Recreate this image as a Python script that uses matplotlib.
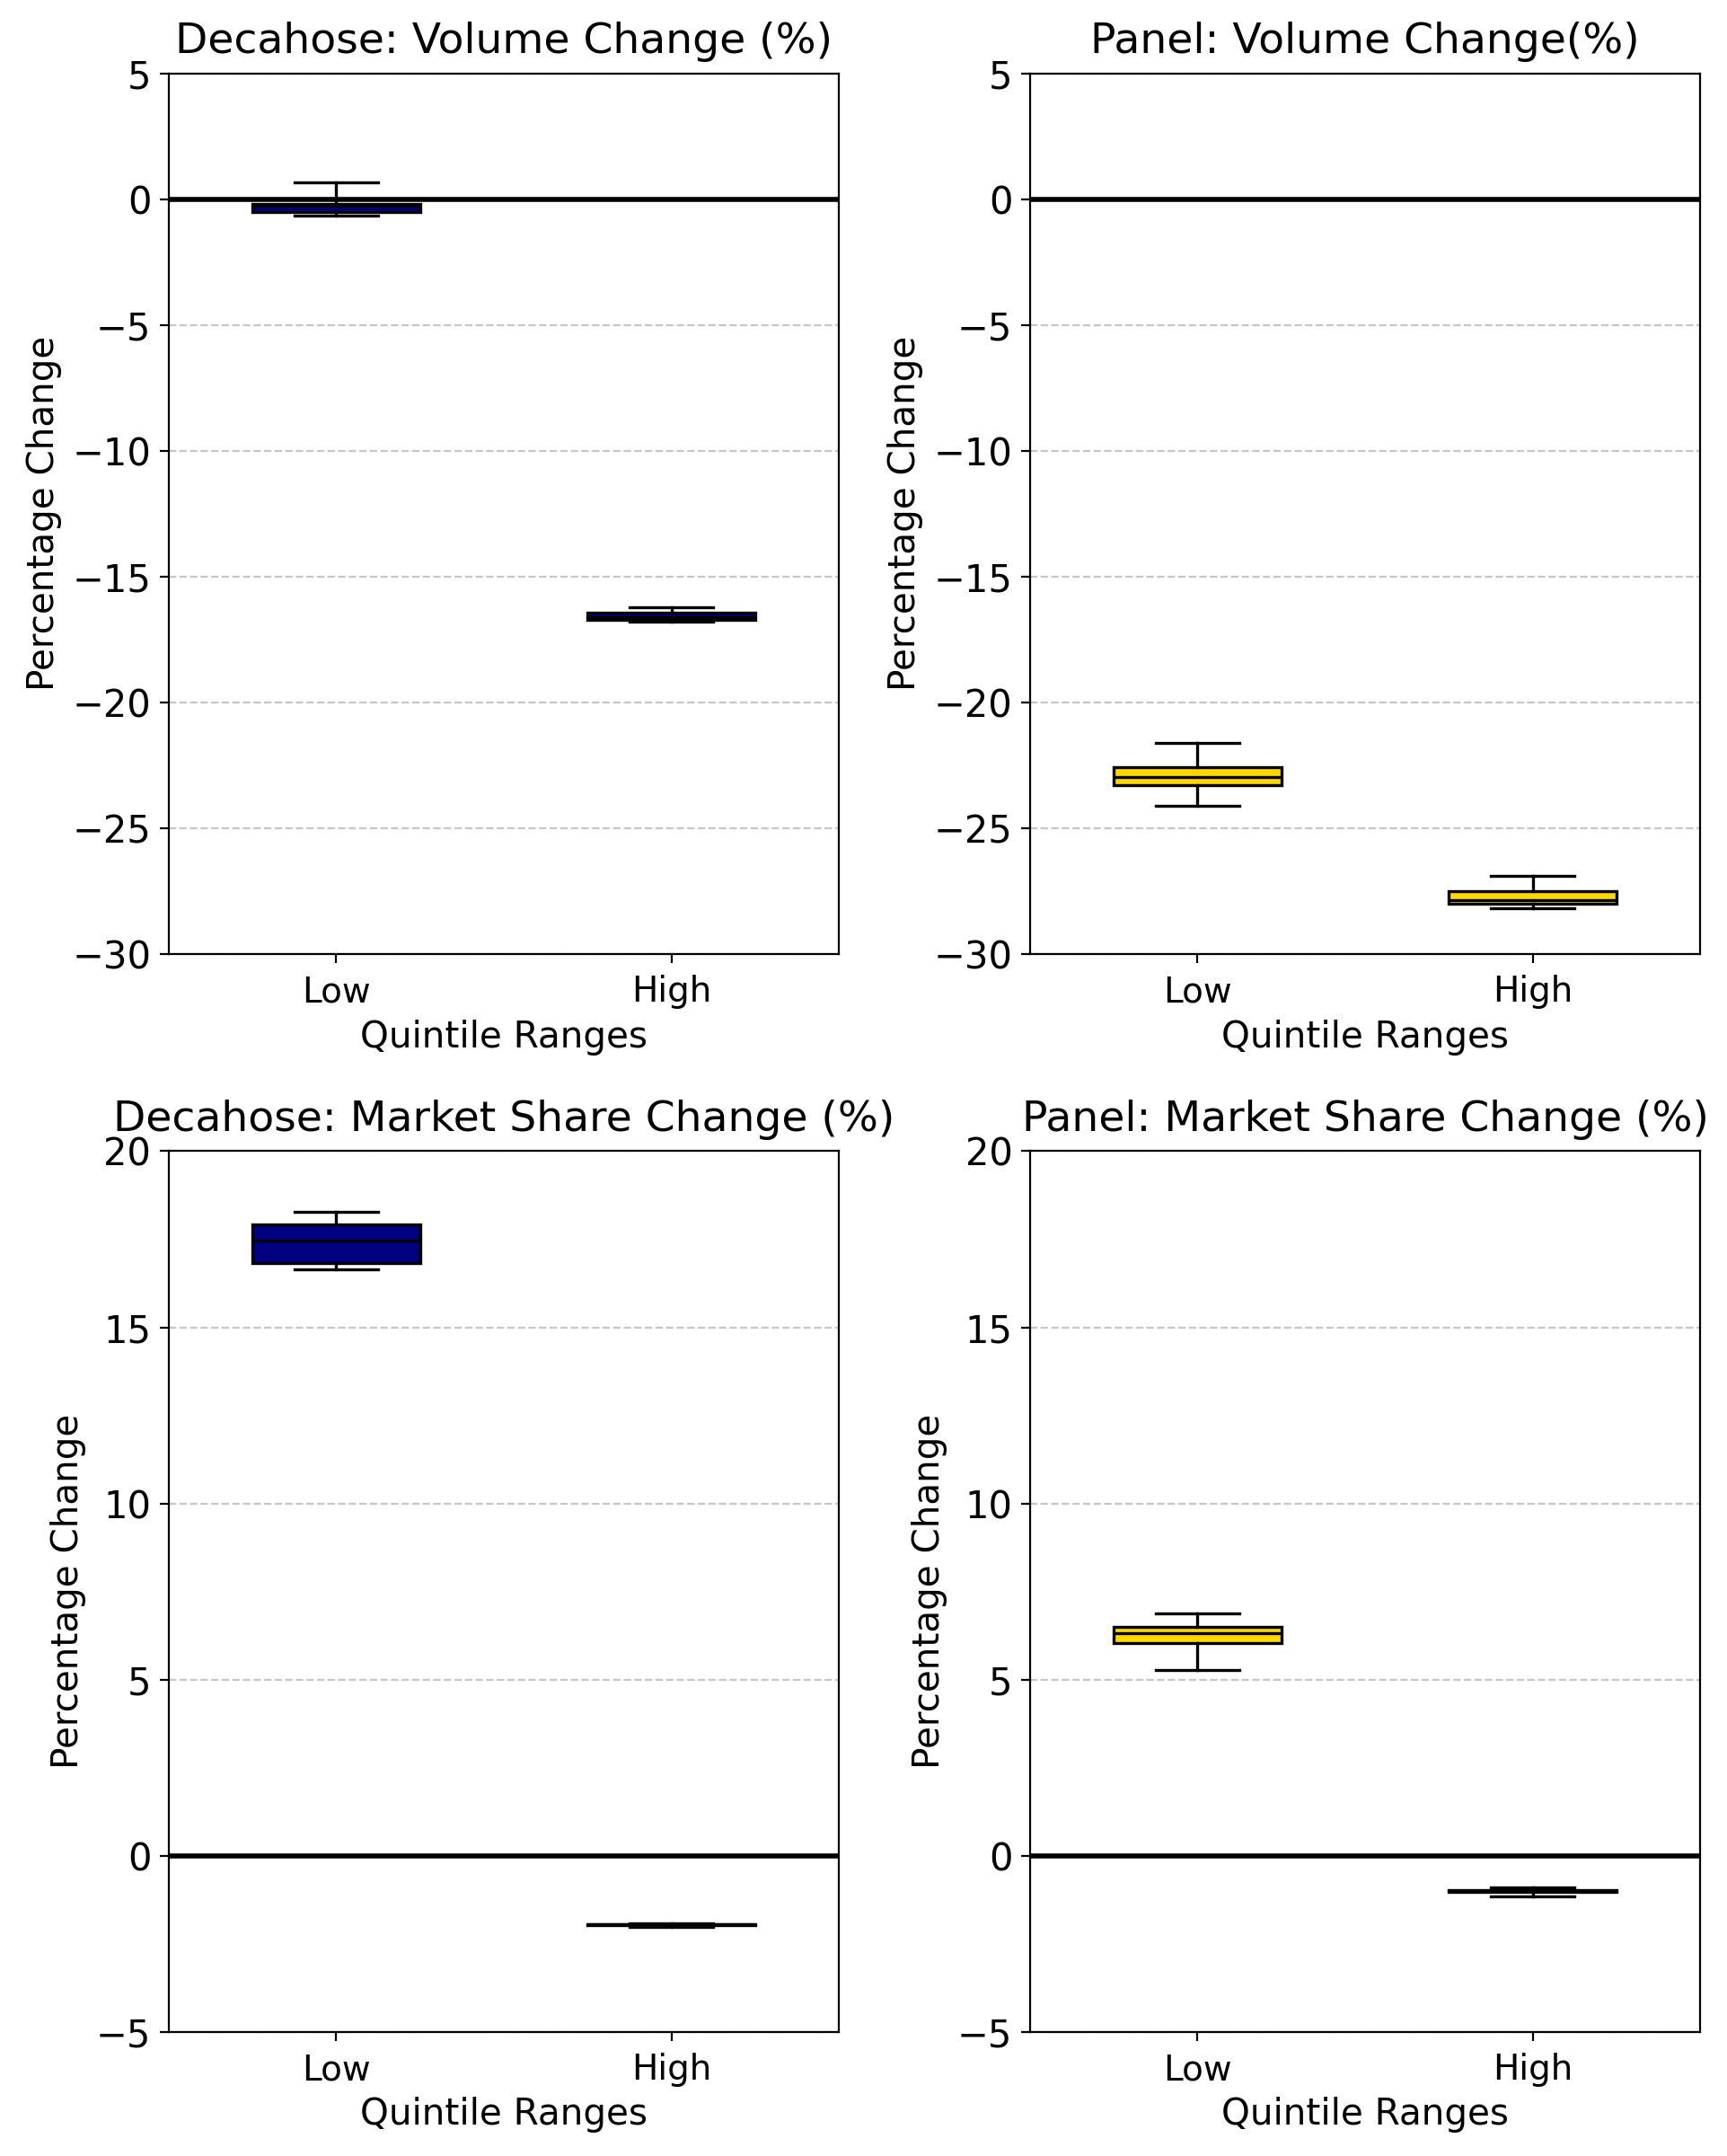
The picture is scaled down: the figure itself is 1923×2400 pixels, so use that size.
import matplotlib
matplotlib.use("Agg")
import matplotlib.pyplot as plt

groups = ["Low", "High"]

# box stats: lower whisker, q1, median, q3, upper whisker
deca_vol_lo = [-0.64, -16.78]
deca_vol_q1 = [-0.50, -16.72]
deca_vol_med = [-0.27, -16.60]
deca_vol_q3 = [-0.18, -16.45]
deca_vol_hi = [0.68, -16.21]

panel_vol_lo = [-24.13, -28.17]
panel_vol_q1 = [-23.28, -27.99]
panel_vol_med = [-22.97, -27.87]
panel_vol_q3 = [-22.58, -27.52]
panel_vol_hi = [-21.63, -26.91]

deca_ms_lo = [16.65, -2.02]
deca_ms_q1 = [16.83, -1.97]
deca_ms_med = [17.46, -1.955]
deca_ms_q3 = [17.92, -1.94]
deca_ms_hi = [18.28, -1.91]

panel_ms_lo = [5.26, -1.16]
panel_ms_q1 = [6.03, -1.03]
panel_ms_med = [6.32, -1.00]
panel_ms_q3 = [6.50, -0.98]
panel_ms_hi = [6.88, -0.90]


def make_stats(lo, q1, med, q3, hi):
    stats = []
    for i in range(len(groups)):
        stats.append({"label": groups[i], "whislo": lo[i], "q1": q1[i],
                      "med": med[i], "q3": q3[i], "whishi": hi[i], "fliers": []})
    return stats


def draw(ax, stats, color, title, ylim, yticks):
    ax.bxp(stats, positions=[1, 2], widths=0.5, patch_artist=True, showfliers=False,
           boxprops=dict(facecolor=color, edgecolor="black", linewidth=1.2),
           medianprops=dict(color="black", linewidth=1.2),
           whiskerprops=dict(color="black", linewidth=1.2),
           capprops=dict(color="black", linewidth=1.2))
    ax.axhline(0, color="black", linewidth=2)
    ax.set_xlim(0.5, 2.5)
    ax.set_ylim(*ylim)
    ax.set_yticks(yticks)
    ax.set_title(title, fontsize=17, pad=8)
    ax.set_xlabel("Quintile Ranges", fontsize=14.6)
    ax.set_ylabel("Percentage Change", fontsize=14.6)
    ax.tick_params(axis="y", labelsize=15)
    ax.tick_params(axis="x", labelsize=14, pad=5)
    ax.grid(axis="y", linestyle="--", alpha=0.7)
    ax.set_axisbelow(True)


fig, axes = plt.subplots(2, 2, figsize=(9.62, 12), dpi=200)
fig.subplots_adjust(left=0.0976, right=0.984, top=0.966, bottom=0.0576,
                    wspace=0.285, hspace=0.224)

draw(axes[0, 0], make_stats(deca_vol_lo, deca_vol_q1, deca_vol_med, deca_vol_q3, deca_vol_hi),
     "navy", "Decahose: Volume Change (%)", (-30, 5), range(-30, 6, 5))
draw(axes[0, 1], make_stats(panel_vol_lo, panel_vol_q1, panel_vol_med, panel_vol_q3, panel_vol_hi),
     "gold", "Panel: Volume Change(%)", (-30, 5), range(-30, 6, 5))
draw(axes[1, 0], make_stats(deca_ms_lo, deca_ms_q1, deca_ms_med, deca_ms_q3, deca_ms_hi),
     "navy", "Decahose: Market Share Change (%)", (-5, 20), range(-5, 21, 5))
draw(axes[1, 1], make_stats(panel_ms_lo, panel_ms_q1, panel_ms_med, panel_ms_q3, panel_ms_hi),
     "gold", "Panel: Market Share Change (%)", (-5, 20), range(-5, 21, 5))

fig.savefig("out.png", dpi=200)
